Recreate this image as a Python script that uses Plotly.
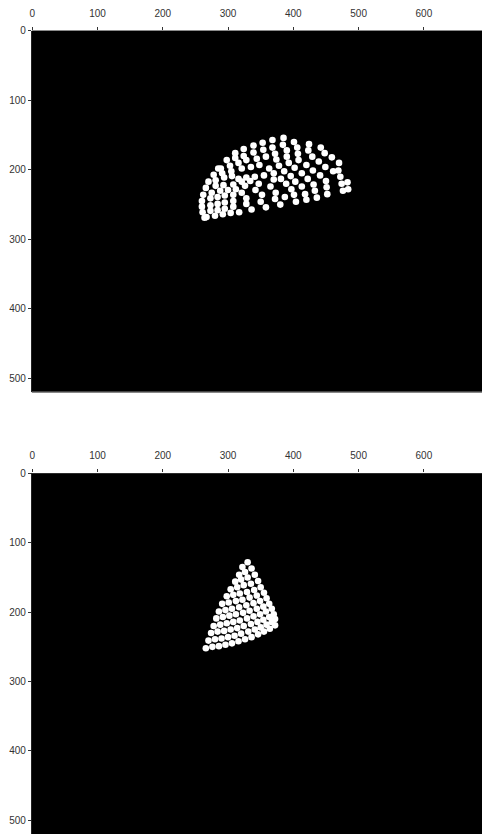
import plotly.graph_objects as go

# Image frame size (pixels) and tick positions
img_width = 689
img_height = 520
x_ticks = [0, 100, 200, 300, 400, 500, 600]
y_ticks = [0, 100, 200, 300, 400, 500]

# Detected blob centres, view 1 (pixel coordinates)
top_x = [385, 368, 353, 339, 324, 311, 401, 424, 442, 384, 368, 354, 339, 324, 311, 298,
         406, 390, 372, 448, 459, 470, 423, 407, 390, 374, 358, 344, 328, 316, 303, 285,
         289, 429, 439, 449, 461, 469, 408, 393, 378, 363, 348, 335, 321, 305, 291, 278,
         420, 402, 386, 370, 355, 341, 328, 316, 306, 294, 281, 270, 430, 441, 450, 472,
         413, 396, 381, 422, 403, 389, 370, 365, 347, 334, 321, 308, 293, 281, 266, 431,
         451, 474, 483, 413, 397, 373, 352, 342, 326, 312, 300, 288, 275, 262, 433, 452,
         476, 484, 418, 401, 387, 372, 350, 328, 321, 308, 295, 284, 273, 260, 436, 420,
         404, 380, 358, 336, 328, 308, 295, 284, 273, 260, 308, 295, 284, 273, 261, 317,
         304, 292, 280, 267, 264]
top_y = [154, 157, 161, 165, 170, 176, 160, 163, 168, 164, 168, 171, 175, 180, 183, 186,
         168, 172, 177, 176, 182, 190, 172, 177, 181, 185, 181, 184, 186, 190, 194, 198,
         198, 181, 188, 196, 202, 201, 186, 190, 194, 198, 193, 196, 198, 202, 205, 207,
         193, 197, 202, 205, 208, 210, 211, 213, 209, 211, 215, 217, 201, 208, 216, 210,
         205, 209, 213, 213, 217, 220, 214, 224, 220, 216, 217, 221, 222, 223, 226, 221,
         225, 220, 218, 224, 228, 233, 236, 229, 223, 228, 229, 230, 233, 236, 230, 235,
         230, 228, 235, 236, 239, 242, 246, 241, 233, 236, 237, 239, 241, 245, 240, 243,
         246, 250, 254, 257, 249, 245, 247, 249, 251, 253, 253, 256, 258, 259, 261, 261,
         262, 264, 266, 268, 269]

# Detected blob centres, view 2 (pixel coordinates)
bottom_x = [322, 330,
            317, 326, 336,
            311, 320, 330, 341,
            304, 314, 324, 335, 346,
            298, 308, 318, 329, 340, 350,
            291, 301, 312, 322, 333, 344, 355,
            286, 296, 306, 317, 328, 339, 349, 359,
            282, 292, 302, 312, 323, 333, 344, 354, 363,
            278, 288, 298, 308, 318, 329, 339, 349, 358, 367,
            274, 284, 294, 304, 314, 324, 335, 345, 354, 363, 370,
            270, 280, 290, 300, 310, 320, 331, 341, 350, 359, 367, 372,
            266, 276, 286, 296, 306, 316, 326, 336, 346, 355, 364, 372]
bottom_y = [135, 128,
            146, 142, 137,
            156, 153, 150, 146,
            167, 164, 161, 159, 155,
            177, 175, 173, 171, 168, 164,
            188, 186, 184, 182, 179, 176, 172,
            199, 197, 195, 193, 190, 187, 184, 180,
            209, 207, 205, 203, 201, 198, 195, 192, 188,
            220, 218, 216, 214, 212, 209, 206, 203, 199, 195,
            230, 228, 227, 225, 223, 220, 217, 214, 211, 207, 203,
            241, 239, 238, 236, 234, 231, 228, 225, 222, 218, 214, 210,
            252, 250, 249, 247, 245, 242, 239, 236, 232, 228, 224, 219]

fig = go.Figure()

dot_style = dict(size=6.6, color="white", line=dict(width=0))
fig.add_trace(go.Scatter(x=top_x, y=top_y, mode="markers", marker=dot_style,
                         xaxis="x", yaxis="y", showlegend=False, hoverinfo="x+y"))
fig.add_trace(go.Scatter(x=bottom_x, y=bottom_y, mode="markers", marker=dot_style,
                         xaxis="x2", yaxis="y2", showlegend=False, hoverinfo="x+y"))

tick_font = dict(family="Liberation Sans, Arial, sans-serif", size=10, color="#333333")
common_x = dict(range=[-0.5, img_width], side="top", tickvals=x_ticks,
                ticks="outside", ticklen=3, tickcolor="#333333", tickwidth=1,
                ticklabelstandoff=6,
                showgrid=False, zeroline=False, showline=False, tickfont=tick_font,
                domain=[30 / 482, 1])
common_y = dict(range=[img_height, -0.5], tickvals=y_ticks,
                ticks="outside", ticklen=3, tickcolor="#333333", tickwidth=1,
                showgrid=False, zeroline=False, showline=True, linecolor="#222222",
                linewidth=1, tickfont=tick_font)

fig.update_layout(
    width=482, height=834,
    margin=dict(l=0, r=0, t=0, b=0),
    paper_bgcolor="white", plot_bgcolor="black",
    xaxis=dict(anchor="y", **common_x),
    yaxis=dict(anchor="x", domain=[1 - 389.5 / 834, 1 - 25.7 / 834], **common_y),
    xaxis2=dict(anchor="y2", **common_x),
    yaxis2=dict(anchor="x2", domain=[0, 1 - 471 / 834], **common_y),
    shapes=[dict(type="line", xref="x domain", yref="y domain", x0=0, x1=1, y0=0, y1=0,
                 line=dict(color="#888888", width=1.5))],
)

fig.write_html("out.html")
